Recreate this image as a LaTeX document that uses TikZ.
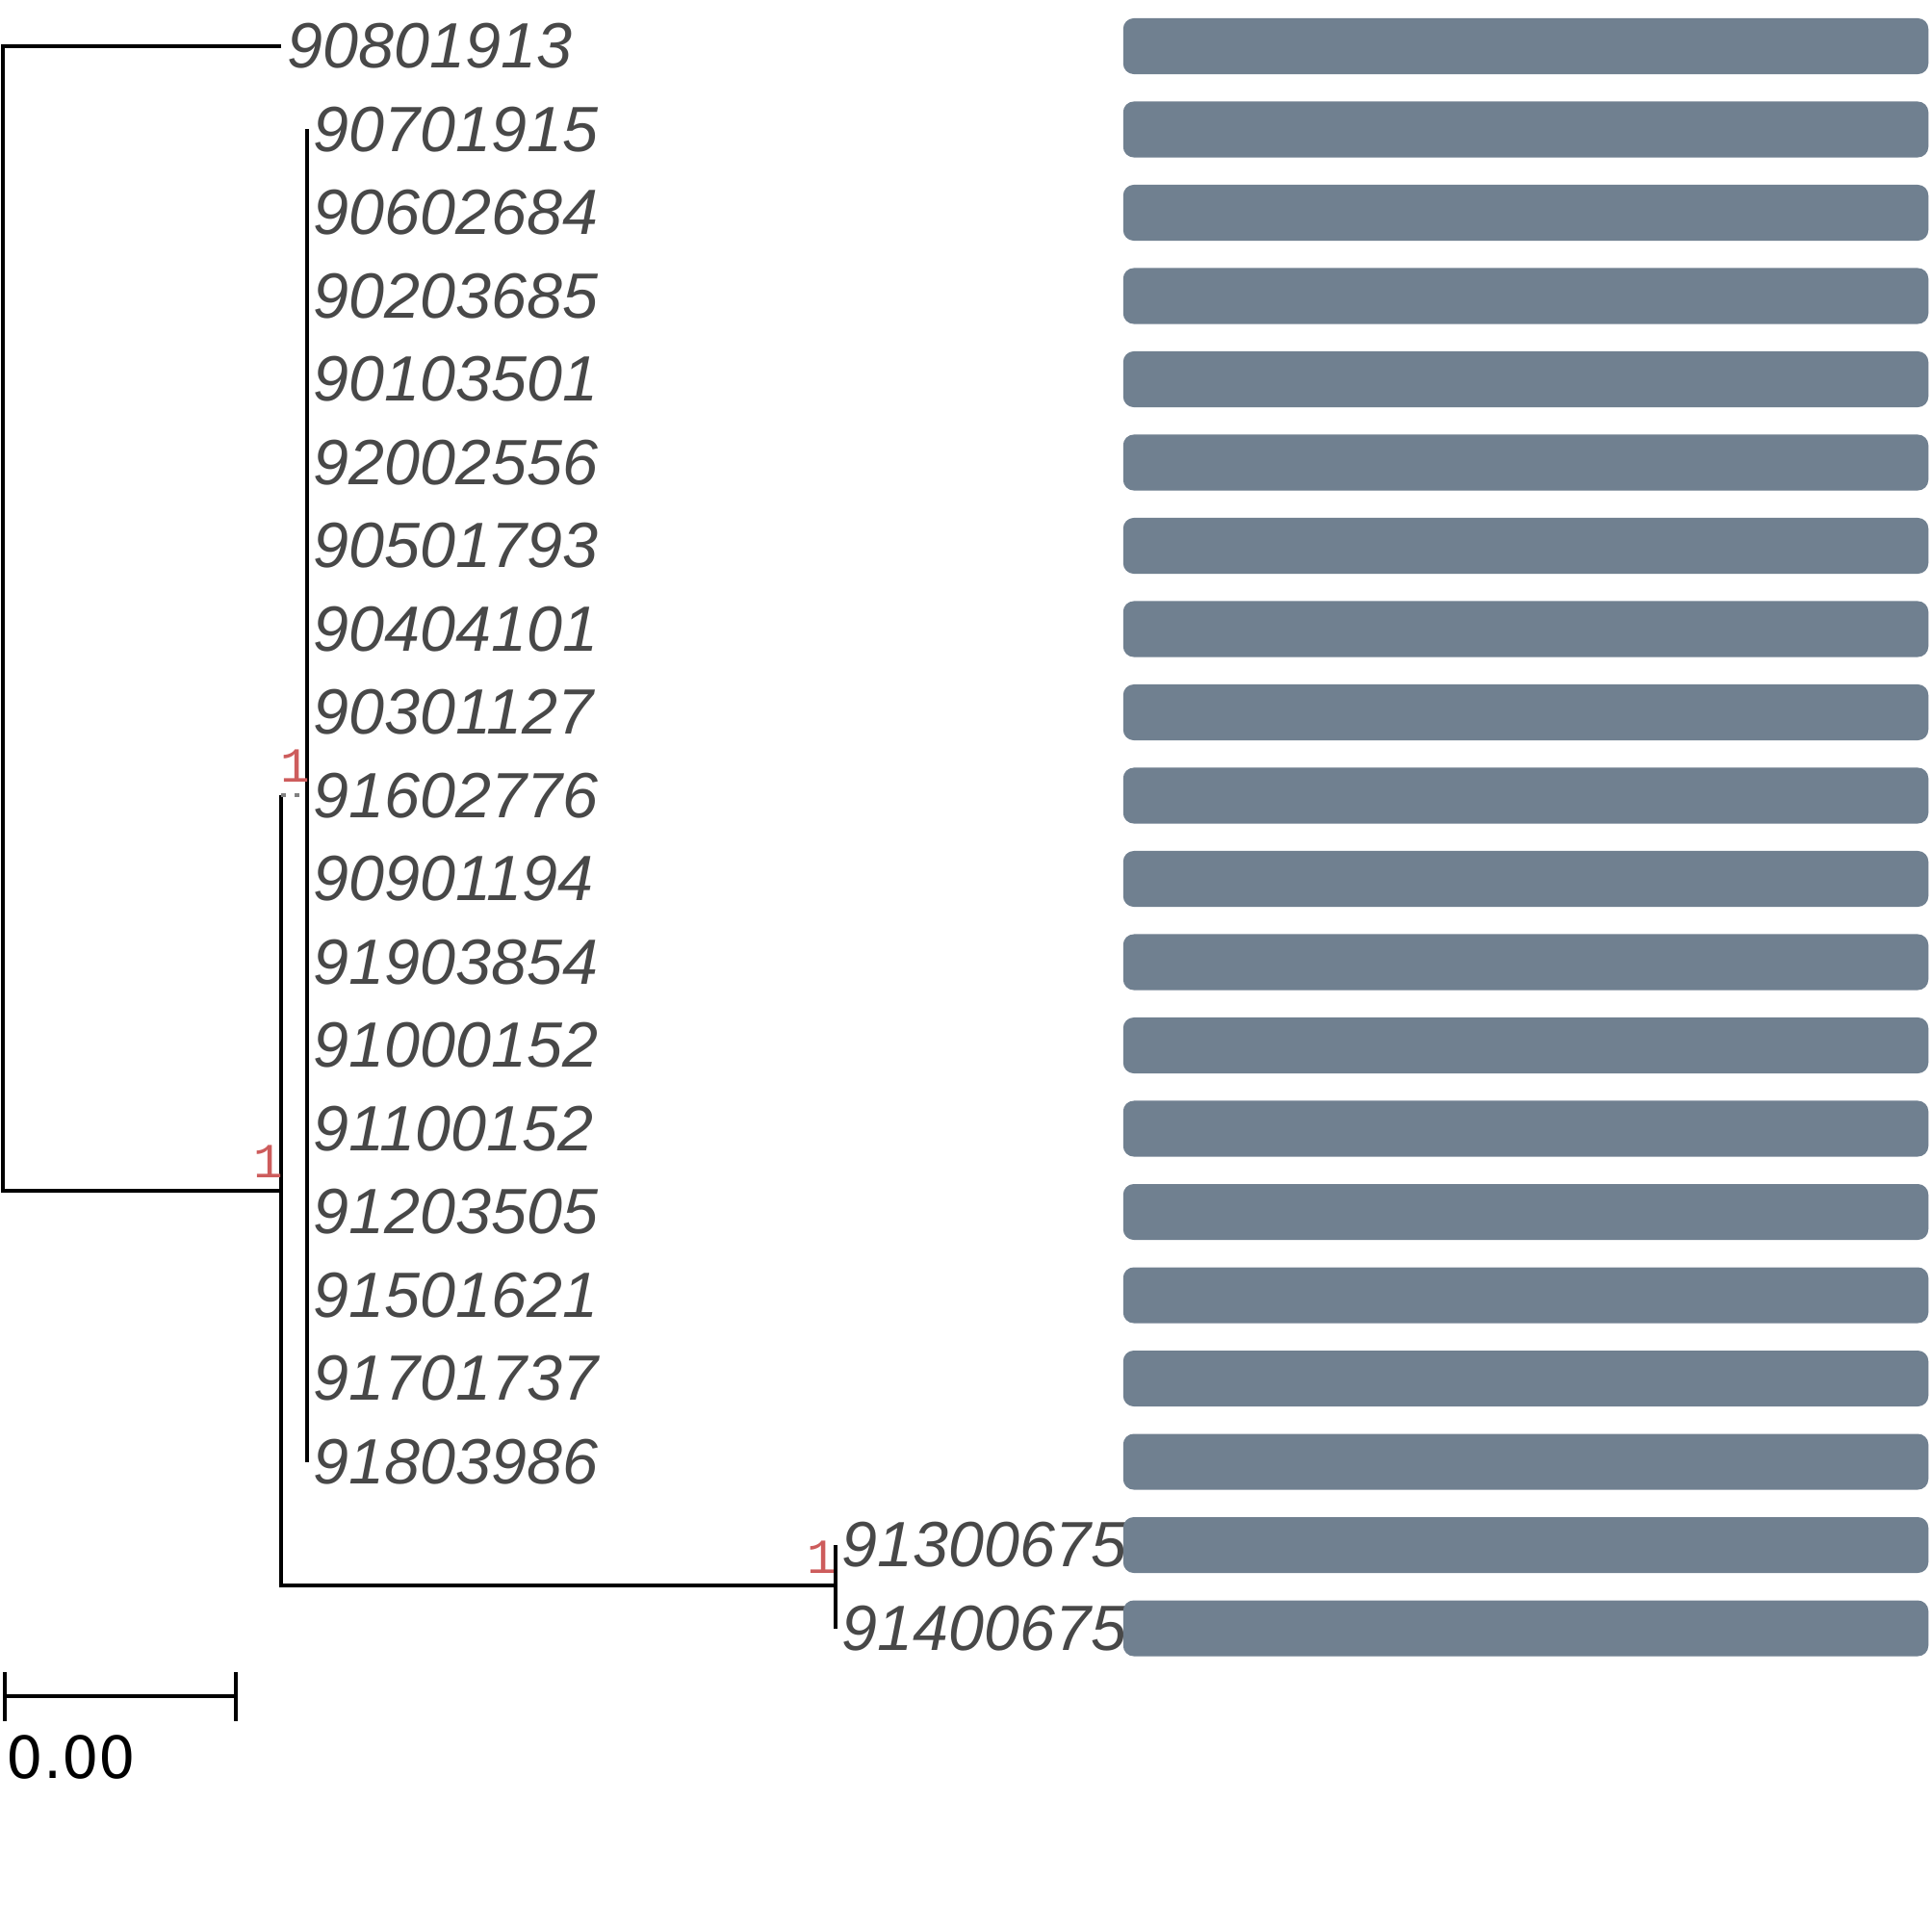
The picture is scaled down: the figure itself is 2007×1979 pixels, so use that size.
\documentclass[tikz,border=0pt]{standalone}
\usepackage{fontspec}
\usetikzlibrary{positioning}
\definecolor{barslate}{RGB}{112,128,144}
\definecolor{tipgray}{RGB}{72,72,72}
\definecolor{bootred}{RGB}{205,92,92}
\newfontfamily\tipfont{Liberation Sans}
\newfontfamily\bootfont{Liberation Mono}
\newfontfamily\scalefont{DejaVu Sans}

\begin{document}
\begin{tikzpicture}[x=0.01cm,y=-0.01cm,
	branch/.style={line width=0.04cm},
	zerobranch/.style={line width=0.04cm,gray,dash pattern=on 0.05cm off 0.09cm},
	tiplabel/.style={anchor=west,inner sep=0pt,text=tipgray,
		font=\tipfont\itshape\fontsize{18.9}{20}\selectfont},
	bootlabel/.style={anchor=south east,inner sep=0pt,text=bootred,
		font=\bootfont\fontsize{14.5}{16}\selectfont},
	seqbar/.style={fill=barslate,draw=none,rounded corners=0.11cm,
		minimum width=8.36cm,minimum height=0.58cm,inner sep=0pt}]
	
	\useasboundingbox (0,0) rectangle (2007,1979);
	
	% tips, labels and bars
	\foreach \lab/\tx [count=\i] in {90801913/292, 90701915/319, 90602684/319,
		90203685/319, 90103501/319, 92002556/319, 90501793/319, 90404101/319,
		90301127/319, 91602776/319, 90901194/319, 91903854/319, 91000152/319,
		91100152/319, 91203505/319, 91501621/319, 91701737/319, 91803986/319,
		91300675/868, 91400675/868}{
		\coordinate (tip\i) at (\tx,{48+(\i-1)*86.5});
		\node[tiplabel] (lab\i) at ([xshift=0.06cm]tip\i) {\lab};
		\node[seqbar] (bar\i) at (1585,{48+(\i-1)*86.5}) {};
	}
	
	% internal nodes
	\coordinate (n0) at (3,642.5);
	\coordinate (n1) at (292,1237);
	\coordinate (n2) at (319,826);
	\coordinate (n3) at (868,1647);
	
	\draw[branch] (tip1) -| (n0) |- (n1);
	\draw[branch] (n1 |- n2) -- (n1 |- n3) -- (n3);
	\draw[zerobranch] (n1 |- n2) -- (n2);
	\draw[branch] (tip2) -- (tip18);
	\draw[branch] (tip19) -- (tip20);
	
	% support values
	\node[bootlabel] (bs1) at ([xshift=0.03cm,yshift=0.13cm]n1) {1};
	\node[bootlabel] (bs2) at ([xshift=0.04cm,yshift=0.13cm]n2) {1};
	\node[bootlabel] (bs3) at ([xshift=0.02cm,yshift=0.12cm]n3) {1};
	
	% scale bar
	\coordinate (sb0) at (5,1762);
	\coordinate (sb1) at (245,1762);
	\draw[branch] (sb0) -- (sb1);
	\draw[branch] ([yshift=0.25cm]sb0) -- ([yshift=-0.26cm]sb0);
	\draw[branch] ([yshift=0.25cm]sb1) -- ([yshift=-0.26cm]sb1);
	\node[anchor=north west,inner sep=0pt,font=\scalefont\fontsize{17.2}{18}\selectfont]
		(sblab) at (6,1802) {0.00};
\end{tikzpicture}
\end{document}
